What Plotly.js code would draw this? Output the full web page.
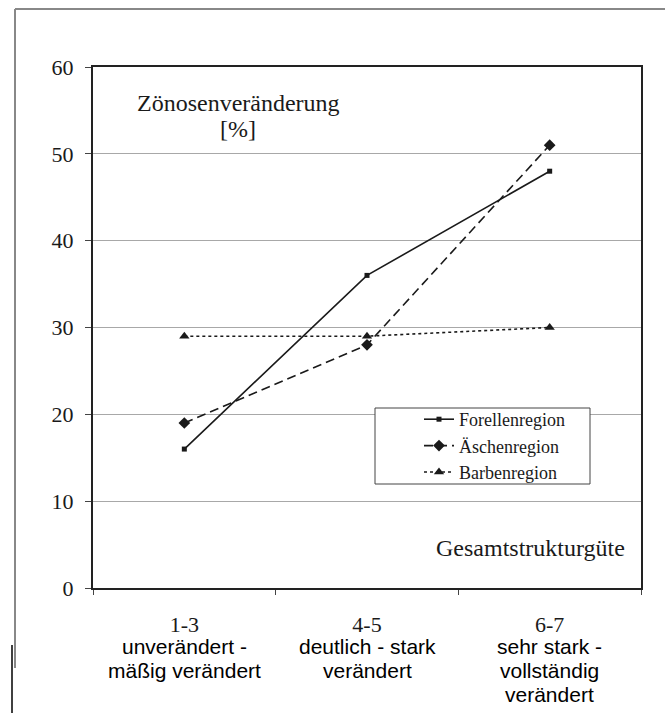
<!DOCTYPE html>
<html>
<head>
<meta charset="utf-8">
<script src="https://cdn.plot.ly/plotly-3.0.1.min.js"></script>
<style>html,body{margin:0;padding:0;background:#fff;}#chart{width:665px;height:713px;}</style>
</head>
<body>
<div id="chart"></div>
<script>
const categories = ['1-3', '4-5', '6-7'];
const descriptions = [
  ['unverändert -', 'mäßig verändert'],
  ['deutlich - stark', 'verändert'],
  ['sehr stark -', 'vollständig', 'verändert']
];
const seriesNames = ['Forellenregion', 'Äschenregion', 'Barbenregion'];
const forellen = [16, 36, 48];
const aeschen = [19, 28, 51];
const barben = [29, 29, 30];
const yTitleLines = ['Zönosenveränderung', '[%]'];
const xTitle = 'Gesamtstrukturgüte';

const W = 665, H = 713;
const M = {l: 93, r: 24, t: 67, b: 125};
const PW = W - M.l - M.r, PH = H - M.t - M.b;
const px = x => (x - M.l) / PW;
const py = y => (H - M.b - y) / PH;

const serif = '"Liberation Serif", "Times New Roman", serif';
const sans = '"Liberation Sans", Arial, sans-serif';
const ink = '#1a1a1a';

const traces = [
  {x: categories, y: forellen, name: seriesNames[0], mode: 'lines+markers',
   line: {color: ink, width: 1.6, dash: 'solid'}, marker: {symbol: 'square', size: 5, color: ink}},
  {x: categories, y: aeschen, name: seriesNames[1], mode: 'lines+markers',
   line: {color: ink, width: 1.6, dash: '9px,5px'}, marker: {symbol: 'diamond', size: 9, color: ink}},
  {x: categories, y: barben, name: seriesNames[2], mode: 'lines+markers',
   line: {color: ink, width: 1.6, dash: '3px,3px'}, marker: {symbol: 'triangle-up', size: 9, color: ink}}
];

const annotations = [];
descriptions.forEach((lines, i) => {
  lines.forEach((t, j) => {
    annotations.push({x: categories[i], xref: 'x', y: py(646 + 24 * j), yref: 'paper',
      text: t, showarrow: false, xanchor: 'center', yanchor: 'middle',
      font: {family: sans, size: 21, color: '#000'}});
  });
});
annotations.push({x: px(238), xref: 'paper', y: py(103), yref: 'paper', text: yTitleLines[0],
  showarrow: false, xanchor: 'center', yanchor: 'middle', font: {family: serif, size: 24, color: ink}});
annotations.push({x: px(238), xref: 'paper', y: py(129), yref: 'paper', text: yTitleLines[1],
  showarrow: false, xanchor: 'center', yanchor: 'middle', font: {family: serif, size: 24, color: ink}});
annotations.push({x: px(530), xref: 'paper', y: py(548), yref: 'paper', text: xTitle,
  showarrow: false, xanchor: 'center', yanchor: 'middle', font: {family: serif, size: 24, color: ink}});

const shapes = [
  {type: 'line', xref: 'paper', yref: 'paper', x0: px(15), x1: px(670), y0: py(9), y1: py(9), line: {color: '#888', width: 2}},
  {type: 'line', xref: 'paper', yref: 'paper', x0: px(15), x1: px(15), y0: py(9), y1: py(668), line: {color: '#888', width: 2}},
  {type: 'line', xref: 'paper', yref: 'paper', x0: px(12), x1: px(12), y0: py(645), y1: py(720), line: {color: '#000', width: 1.5}},
  {type: 'rect', xref: 'paper', yref: 'paper', x0: px(375), x1: px(590), y0: py(408), y1: py(484),
   line: {color: '#444', width: 1}, fillcolor: '#fff', layer: 'above'}
];

const layout = {
  width: W, height: H,
  margin: M,
  paper_bgcolor: '#fff', plot_bgcolor: '#fff',
  showlegend: true,
  legend: {x: px(419), y: py(401), xanchor: 'left', yanchor: 'top',
    bgcolor: 'rgba(0,0,0,0)', borderwidth: 0,
    font: {family: serif, size: 18, color: ink}, tracegroupgap: 0},
  xaxis: {type: 'category', range: [-0.5, 2.5], tickson: 'boundaries', ticks: 'outside', ticklen: 5,
    tickcolor: '#444', showline: true, linecolor: '#222', linewidth: 2, mirror: true, showgrid: false,
    tickfont: {family: serif, size: 22, color: ink}, ticklabelstandoff: 16, fixedrange: true},
  yaxis: {range: [0, 60], dtick: 10, ticks: 'outside', ticklen: 6, tickcolor: '#444',
    showline: true, linecolor: '#222', linewidth: 2, mirror: true,
    showgrid: true, gridcolor: '#a8a8a8', gridwidth: 1.2, zeroline: false,
    tickfont: {family: serif, size: 22, color: ink}, ticklabelstandoff: 7, fixedrange: true},
  annotations: annotations,
  shapes: shapes
};

Plotly.newPlot('chart', traces, layout, {staticPlot: true, displayModeBar: false});
</script>
</body>
</html>
